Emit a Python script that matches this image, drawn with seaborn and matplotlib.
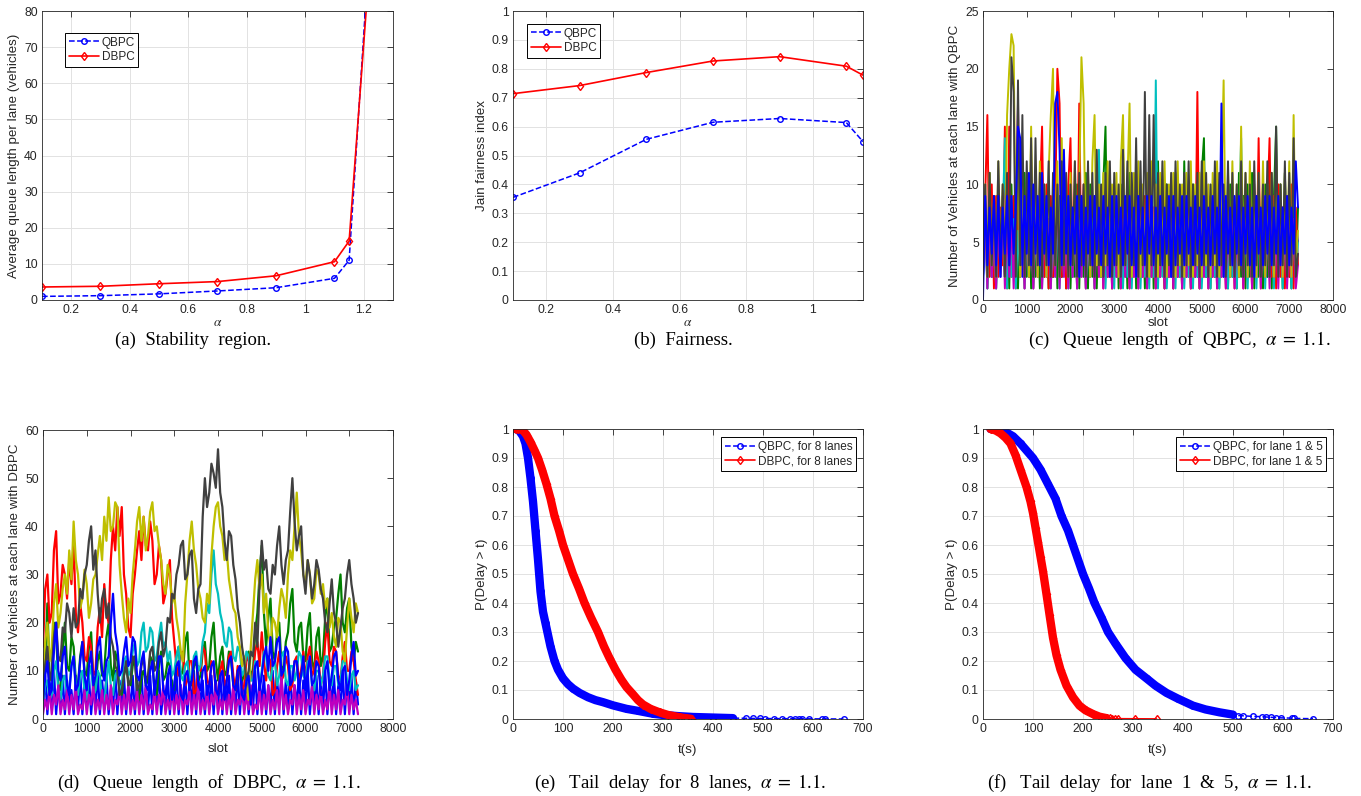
import numpy as np
import matplotlib
matplotlib.use("Agg")
import matplotlib.pyplot as plt
import seaborn as sns
from matplotlib.lines import Line2D
from matplotlib.ticker import FuncFormatter

# ---- (a) stability region / (b) fairness ----
ALPHA_A = [0.1, 0.3, 0.5, 0.7, 0.9, 1.1, 1.15, 1.21]
QUEUE_QBPC = [1.0, 1.2, 1.7, 2.5, 3.4, 6.0, 11.0, 86.0]
QUEUE_DBPC = [3.6, 3.8, 4.5, 5.1, 6.7, 10.6, 16.3, 82.0]

ALPHA_B = [0.1, 0.3, 0.5, 0.7, 0.9, 1.1, 1.15]
JAIN_QBPC = [0.355, 0.44, 0.556, 0.615, 0.628, 0.614, 0.548]
JAIN_DBPC = [0.714, 0.742, 0.787, 0.827, 0.842, 0.809, 0.778]

# ---- (c),(d) queue length per lane, read every 50 slots (one row = 1000 slots) ----
SLOTS = list(range(0, 7250, 50))
LANE_COLORS = ["#0000ff", "#008000", "#ff0000", "#00bfbf",
               "#bf00bf", "#bfbf00", "#404040", "#0000ff"]

QL1 = [2, 8, 3, 9, 2, 7, 4, 9, 3, 8, 2, 9, 3, 7, 2, 8, 4, 9, 2, 8,
       3, 9, 2, 7, 3, 8, 2, 9, 4, 8, 3, 7, 2, 9, 3, 8, 2, 9, 3, 7,
       2, 8, 4, 9, 2, 7, 3, 9, 2, 8, 3, 9, 4, 7, 2, 8, 3, 9, 2, 8,
       3, 7, 2, 9, 3, 8, 2, 9, 4, 8, 3, 9, 2, 7, 3, 8, 2, 9, 3, 8,
       2, 9, 3, 7, 4, 8, 2, 9, 3, 8, 2, 7, 3, 9, 2, 8, 4, 9, 2, 8,
       3, 7, 2, 9, 3, 8, 2, 9, 3, 7, 4, 8, 2, 9, 3, 8, 2, 7, 3, 9,
       2, 8, 3, 9, 2, 7, 4, 8, 3, 9, 2, 8, 3, 7, 2, 9, 3, 8, 4, 9,
       2, 8, 3, 7, 5]
QL2 = [2, 9, 1, 11, 2, 8, 1, 10, 3, 9, 2, 7, 1, 10, 2, 9, 1, 8, 3, 11,
       2, 10, 1, 9, 2, 8, 1, 11, 2, 9, 1, 8, 2, 10, 1, 9, 2, 11, 1, 8,
       1, 8, 2, 10, 1, 9, 2, 11, 1, 10, 2, 8, 1, 9, 2, 10, 15, 2, 11, 1,
       2, 9, 1, 10, 2, 8, 1, 11, 2, 9, 1, 10, 2, 8, 1, 9, 2, 11, 1, 10,
       12, 2, 9, 1, 10, 2, 8, 1, 11, 2, 9, 1, 12, 2, 8, 1, 10, 2, 9, 1,
       11, 14, 2, 9, 1, 10, 2, 8, 1, 11, 2, 9, 1, 10, 2, 8, 1, 11, 2, 9,
       1, 10, 2, 11, 1, 9, 2, 8, 1, 10, 2, 11, 1, 9, 15, 2, 10, 1, 11, 2,
       9, 1, 10, 2, 8]
QL3 = [3, 9, 16, 2, 10, 1, 9, 2, 8, 3, 15, 1, 15, 2, 9, 1, 10, 2, 8, 1,
       9, 2, 10, 1, 8, 2, 9, 15, 2, 10, 1, 9, 2, 8, 20, 17, 2, 9, 1, 10,
       14, 2, 9, 1, 17, 2, 10, 1, 8, 2, 9, 1, 10, 2, 8, 1, 9, 2, 10, 1,
       8, 2, 9, 1, 10, 2, 8, 1, 9, 2, 10, 1, 8, 2, 9, 1, 10, 2, 8, 1,
       9, 2, 10, 1, 8, 2, 9, 1, 10, 2, 8, 1, 9, 2, 10, 1, 8, 2, 18, 1,
       9, 2, 10, 1, 8, 2, 9, 1, 10, 2, 8, 1, 9, 2, 10, 1, 8, 2, 9, 1,
       10, 2, 8, 1, 9, 2, 14, 1, 10, 2, 8, 14, 2, 9, 1, 10, 2, 8, 1, 9,
       2, 10, 1, 8, 3]
QL4 = [2, 7, 1, 8, 2, 6, 1, 8, 2, 7, 14, 1, 8, 2, 7, 1, 6, 2, 8, 1,
       7, 2, 8, 1, 6, 2, 7, 1, 8, 2, 7, 1, 6, 2, 8, 1, 7, 2, 8, 1,
       6, 2, 7, 1, 8, 2, 7, 1, 6, 2, 8, 1, 7, 13, 2, 8, 1, 6, 2, 7,
       1, 8, 2, 7, 1, 6, 2, 8, 1, 7, 2, 8, 1, 6, 2, 7, 1, 8, 2, 19,
       1, 7, 2, 8, 1, 6, 2, 7, 1, 8, 2, 7, 1, 6, 2, 8, 1, 7, 2, 8,
       1, 6, 2, 7, 1, 8, 2, 7, 1, 6, 2, 8, 1, 7, 2, 8, 1, 6, 14, 2,
       7, 1, 8, 2, 6, 1, 7, 2, 8, 1, 7, 2, 6, 1, 8, 2, 7, 1, 8, 2,
       6, 1, 7, 2, 5]
QL5 = [2, 7, 1, 8, 2, 6, 1, 7, 2, 8, 1, 6, 2, 7, 1, 8, 17, 2, 7, 1,
       8, 2, 6, 1, 7, 2, 8, 1, 6, 2, 7, 1, 8, 2, 10, 1, 7, 2, 6, 1,
       7, 2, 8, 1, 6, 2, 7, 1, 8, 2, 6, 1, 7, 2, 8, 1, 6, 2, 7, 1,
       8, 2, 6, 1, 7, 2, 8, 1, 6, 2, 7, 1, 8, 2, 6, 1, 7, 2, 8, 1,
       6, 2, 7, 1, 8, 2, 6, 1, 7, 2, 8, 1, 6, 2, 7, 1, 8, 2, 6, 1,
       7, 2, 8, 1, 6, 2, 7, 1, 8, 2, 6, 1, 7, 2, 8, 1, 6, 2, 7, 1,
       8, 2, 6, 1, 7, 2, 8, 1, 6, 2, 7, 1, 8, 2, 6, 1, 7, 2, 8, 1,
       6, 2, 7, 1, 3]
QL6 = [3, 10, 2, 11, 3, 9, 2, 12, 3, 10, 2, 16, 20, 23, 22, 4, 12, 2, 11, 3,
       10, 2, 15, 3, 11, 2, 12, 3, 10, 2, 11, 16, 20, 3, 12, 2, 14, 3, 10, 2,
       11, 3, 12, 2, 10, 21, 17, 3, 11, 2, 12, 16, 3, 10, 2, 11, 3, 12, 2, 10,
       3, 11, 2, 12, 16, 3, 10, 17, 2, 11, 3, 12, 2, 10, 3, 11, 2, 12, 3, 10,
       2, 11, 3, 12, 2, 10, 3, 11, 2, 12, 3, 10, 2, 11, 3, 12, 2, 10, 3, 11,
       2, 12, 3, 10, 2, 11, 3, 12, 2, 10, 19, 3, 11, 2, 12, 3, 10, 2, 15, 3,
       11, 2, 12, 3, 10, 2, 11, 3, 12, 2, 10, 3, 11, 2, 12, 3, 10, 2, 11, 3,
       12, 2, 16, 3, 6]
QL7 = [3, 10, 2, 11, 3, 9, 2, 12, 3, 10, 2, 11, 3, 21, 18, 2, 19, 3, 16, 2,
       12, 3, 14, 2, 14, 3, 11, 2, 10, 3, 12, 2, 11, 3, 10, 2, 12, 3, 11, 2,
       10, 3, 12, 2, 11, 3, 10, 2, 12, 3, 11, 2, 13, 3, 10, 2, 11, 3, 12, 2,
       11, 3, 10, 2, 13, 3, 12, 2, 11, 3, 14, 2, 12, 3, 18, 2, 16, 3, 16, 2,
       11, 3, 12, 2, 10, 3, 11, 2, 12, 3, 10, 2, 11, 3, 12, 2, 10, 3, 11, 2,
       12, 3, 11, 2, 10, 3, 12, 2, 11, 3, 10, 2, 12, 3, 11, 2, 10, 3, 12, 2,
       11, 3, 10, 2, 12, 3, 11, 2, 10, 3, 12, 2, 11, 3, 15, 2, 10, 3, 12, 2,
       11, 3, 14, 2, 4]
QL8 = [0, 9, 3, 8, 4, 9, 3, 9, 2, 8, 4, 9, 3, 9, 4, 8, 15, 14, 3, 9,
       4, 11, 3, 10, 4, 9, 3, 11, 4, 9, 3, 8, 4, 17, 18, 13, 3, 13, 4, 9,
       3, 8, 4, 9, 2, 9, 3, 8, 4, 9, 3, 9, 4, 8, 3, 9, 4, 8, 2, 9,
       3, 9, 4, 8, 3, 9, 4, 9, 3, 8, 2, 9, 4, 8, 3, 9, 4, 9, 3, 8,
       4, 9, 3, 8, 4, 9, 2, 9, 3, 8, 4, 9, 3, 9, 4, 8, 3, 9, 4, 8,
       3, 9, 4, 8, 3, 9, 4, 8, 3, 17, 2, 9, 4, 8, 3, 9, 4, 9, 3, 8,
       4, 9, 3, 8, 2, 9, 4, 8, 3, 9, 4, 9, 3, 8, 4, 9, 3, 8, 4, 9,
       3, 8, 4, 12, 8]

DL1 = [2, 9, 1, 8, 3, 10, 1, 7, 2, 9, 1, 8, 3, 6, 1, 9, 2, 10, 1, 8,
       3, 9, 1, 7, 2, 10, 1, 8, 3, 9, 1, 6, 2, 10, 1, 8, 3, 9, 1, 7,
       2, 9, 1, 8, 3, 10, 1, 7, 2, 9, 1, 8, 3, 10, 1, 6, 2, 9, 1, 8,
       3, 10, 1, 7, 2, 9, 1, 8, 3, 10, 1, 9, 2, 8, 1, 7, 3, 9, 1, 8,
       2, 10, 1, 8, 3, 9, 1, 7, 2, 10, 1, 8, 3, 9, 1, 6, 2, 10, 1, 8,
       3, 9, 1, 7, 2, 10, 1, 8, 3, 9, 1, 8, 2, 10, 1, 7, 3, 9, 1, 8,
       2, 10, 1, 7, 3, 9, 1, 8, 2, 10, 1, 8, 3, 9, 1, 7, 2, 10, 1, 8,
       3, 9, 1, 8, 3]
DL2 = [5, 12, 24, 9, 8, 20, 18, 7, 6, 14, 20, 11, 10, 17, 15, 8, 7, 13, 16, 10,
       9, 15, 18, 8, 6, 12, 14, 9, 10, 17, 20, 11, 8, 14, 12, 6, 5, 9, 11, 8,
       7, 11, 13, 6, 4, 9, 10, 7, 8, 13, 12, 6, 5, 11, 14, 8, 9, 12, 11, 7,
       6, 13, 15, 9, 10, 16, 18, 8, 7, 11, 12, 8, 9, 14, 16, 10, 11, 17, 20, 12,
       8, 13, 15, 9, 10, 14, 12, 7, 6, 10, 11, 8, 9, 13, 14, 9, 10, 18, 22, 30,
       36, 22, 15, 21, 25, 14, 12, 18, 20, 11, 10, 16, 18, 24, 27, 16, 14, 19, 20, 13,
       12, 19, 22, 12, 10, 17, 19, 11, 13, 21, 25, 14, 15, 19, 21, 26, 30, 20, 18, 23,
       25, 15, 12, 16, 14]
DL3 = [15, 27, 30, 20, 22, 35, 39, 24, 26, 32, 30, 25, 33, 28, 37, 22, 18, 24, 20, 13,
       12, 17, 15, 9, 10, 19, 23, 17, 28, 22, 20, 33, 40, 35, 44, 38, 44, 30, 26, 19,
       17, 26, 30, 35, 39, 33, 42, 36, 35, 41, 37, 28, 30, 36, 33, 24, 26, 30, 33, 21,
       16, 11, 9, 13, 14, 7, 8, 12, 12, 5, 6, 11, 10, 15, 14, 8, 7, 12, 11, 6,
       5, 10, 12, 7, 8, 13, 14, 9, 6, 11, 10, 6, 7, 12, 13, 8, 9, 14, 16, 11,
       18, 12, 8, 13, 12, 5, 6, 11, 14, 8, 9, 13, 11, 6, 7, 12, 13, 8, 10, 14,
       8, 13, 15, 9, 10, 14, 12, 7, 9, 16, 20, 12, 11, 15, 14, 9, 8, 13, 16, 10,
       10, 14, 12, 8, 5]
DL4 = [3, 7, 8, 4, 5, 10, 12, 6, 4, 8, 9, 5, 6, 11, 13, 7, 5, 9, 10, 6,
       4, 9, 11, 5, 6, 10, 9, 4, 3, 8, 12, 7, 5, 9, 10, 6, 7, 12, 13, 9,
       10, 14, 16, 11, 12, 18, 20, 14, 15, 19, 18, 12, 13, 17, 20, 15, 16, 12, 14, 9,
       10, 13, 15, 9, 8, 11, 12, 8, 9, 13, 14, 10, 11, 16, 18, 24, 22, 30, 35, 28,
       26, 22, 20, 16, 15, 19, 18, 13, 12, 15, 14, 9, 10, 14, 13, 8, 8, 12, 11, 7,
       10, 14, 13, 9, 8, 11, 12, 7, 9, 13, 14, 8, 7, 11, 11, 8, 10, 14, 13, 9,
       8, 12, 12, 7, 6, 10, 10, 7, 9, 13, 13, 8, 7, 11, 11, 7, 8, 12, 12, 8,
       6, 9, 10, 6, 7]
DL5 = [1, 4, 2, 6, 1, 5, 3, 7, 1, 4, 2, 6, 1, 5, 2, 7, 1, 3, 2, 6,
       1, 5, 3, 7, 1, 4, 2, 6, 1, 5, 2, 7, 1, 4, 3, 6, 1, 5, 2, 7,
       1, 4, 2, 6, 1, 5, 2, 7, 1, 3, 2, 6, 1, 5, 3, 7, 1, 4, 2, 6,
       1, 5, 2, 7, 1, 4, 3, 6, 1, 5, 2, 7, 1, 4, 2, 6, 1, 5, 3, 7,
       1, 4, 2, 6, 1, 5, 2, 7, 1, 4, 3, 6, 1, 5, 2, 7, 1, 3, 2, 6,
       1, 5, 2, 7, 1, 4, 2, 6, 1, 9, 2, 5, 1, 4, 3, 7, 1, 5, 2, 6,
       1, 4, 3, 7, 1, 5, 2, 6, 1, 4, 2, 7, 1, 5, 2, 6, 1, 4, 3, 7,
       1, 5, 2, 4, 1]
DL6 = [10, 16, 20, 12, 15, 24, 28, 19, 22, 27, 30, 26, 35, 29, 41, 33, 30, 23, 25, 31,
       28, 21, 24, 29, 30, 34, 38, 33, 42, 37, 46, 39, 40, 45, 44, 32, 26, 21, 18, 25,
       22, 30, 35, 41, 44, 37, 42, 35, 38, 43, 45, 39, 40, 36, 33, 28, 26, 32, 30, 24,
       26, 21, 18, 14, 12, 24, 30, 37, 41, 35, 32, 27, 25, 21, 20, 26, 24, 34, 40, 44,
       45, 40, 38, 33, 35, 29, 26, 23, 22, 17, 15, 11, 13, 7, 4, 15, 22, 29, 33, 27,
       30, 22, 26, 18, 15, 21, 20, 17, 23, 27, 25, 21, 30, 35, 33, 40, 47, 38, 35, 30,
       28, 33, 30, 24, 25, 31, 30, 26, 28, 23, 25, 19, 22, 17, 15, 21, 20, 14, 12, 19,
       25, 21, 18, 24, 22]
DL7 = [4, 11, 15, 8, 10, 17, 20, 13, 12, 19, 18, 24, 22, 17, 23, 19, 20, 27, 25, 30,
       32, 37, 40, 31, 35, 26, 20, 25, 27, 21, 24, 17, 15, 11, 10, 5, 6, 9, 12, 7,
       8, 13, 12, 6, 7, 11, 13, 8, 9, 14, 15, 10, 11, 16, 18, 13, 15, 21, 20, 26,
       25, 30, 32, 36, 37, 29, 30, 34, 35, 25, 22, 27, 28, 42, 50, 44, 47, 53, 51, 48,
       56, 47, 44, 37, 33, 39, 38, 32, 29, 23, 20, 15, 12, 8, 10, 14, 13, 20, 15, 28,
       37, 31, 33, 27, 26, 32, 30, 36, 40, 32, 28, 33, 35, 43, 50, 41, 35, 38, 40, 30,
       26, 33, 30, 25, 28, 33, 31, 27, 25, 20, 18, 24, 29, 22, 20, 15, 19, 23, 25, 30,
       33, 28, 25, 20, 22]
DL8 = [4, 9, 12, 5, 6, 14, 20, 10, 8, 13, 15, 7, 5, 11, 13, 6, 7, 12, 16, 9,
       6, 11, 14, 7, 9, 15, 17, 10, 8, 12, 13, 20, 26, 18, 15, 9, 10, 14, 17, 11,
       12, 17, 16, 9, 8, 12, 14, 7, 6, 10, 12, 5, 9, 13, 13, 6, 5, 9, 11, 4,
       7, 11, 12, 5, 4, 9, 10, 6, 8, 12, 13, 7, 6, 10, 11, 5, 7, 11, 12, 6,
       5, 9, 10, 4, 8, 12, 13, 7, 6, 10, 11, 5, 4, 8, 9, 3, 7, 11, 12, 6,
       9, 13, 15, 10, 17, 11, 12, 16, 17, 9, 10, 15, 14, 7, 8, 12, 12, 6, 9, 13,
       6, 10, 13, 7, 8, 12, 11, 5, 5, 10, 12, 6, 9, 13, 14, 8, 6, 10, 11, 5,
       8, 13, 16, 9, 10]

# ---- (e) tail delay, 8 lanes ----
E_QBPC_T = [5, 12, 20, 25, 30, 35, 40, 45, 50, 55, 60, 65, 70, 75, 83, 90, 100, 110,
            120, 133, 150, 165, 180, 200, 227, 250, 280, 300, 330, 360, 400, 440]
E_QBPC_P = [1.0, 0.995, 0.975, 0.95, 0.9, 0.83, 0.75, 0.65, 0.55, 0.44, 0.37, 0.33,
            0.29, 0.25, 0.2, 0.17, 0.14, 0.12, 0.105, 0.09, 0.075, 0.065, 0.058, 0.047,
            0.035, 0.028, 0.018, 0.014, 0.01, 0.007, 0.005, 0.003]
E_QBPC_TAIL_T = [465, 480, 494, 504, 521, 537, 554, 564, 571, 577, 591, 617, 624, 661]
E_QBPC_TAIL_P = [0.0025, 0.002, 0.0018, 0.0015, 0.0013, 0.0011, 0.001, 0.0009,
                 0.0008, 0.0007, 0.0006, 0.0004, 0.0003, 0.0001]
E_DBPC_T = [5, 10, 15, 20, 27, 35, 42, 50, 58, 67, 75, 83, 92, 100, 110, 120, 132, 143,
            156, 170, 182, 193, 205, 217, 227, 240, 250, 260, 275, 293, 310, 333, 345, 355]
E_DBPC_P = [1.0, 1.0, 1.0, 0.995, 0.98, 0.955, 0.93, 0.9, 0.86, 0.81, 0.76, 0.7, 0.65,
            0.6, 0.55, 0.5, 0.45, 0.4, 0.35, 0.3, 0.25, 0.21, 0.17, 0.135, 0.11, 0.085,
            0.065, 0.05, 0.035, 0.023, 0.014, 0.006, 0.003, 0.001]
E_DBPC_TAIL_T = [358]
E_DBPC_TAIL_P = [0.0005]

# ---- (f) tail delay, lane 1 & 5 ----
F_QBPC_T = [15, 25, 35, 45, 60, 75, 90, 100, 115, 130, 145, 157, 170, 180, 190, 200,
            212, 223, 237, 250, 265, 285, 305, 327, 345, 367, 390, 420, 445, 473, 500]
F_QBPC_P = [1.0, 1.0, 0.995, 0.99, 0.975, 0.95, 0.92, 0.9, 0.86, 0.81, 0.76, 0.7, 0.65,
            0.6, 0.55, 0.5, 0.45, 0.4, 0.35, 0.3, 0.26, 0.21, 0.17, 0.14, 0.115, 0.09,
            0.07, 0.046, 0.033, 0.023, 0.015]
F_QBPC_TAIL_T = [510, 520, 540, 558, 565, 575, 585, 595, 618, 622, 660]
F_QBPC_TAIL_P = [0.012, 0.011, 0.009, 0.008, 0.007, 0.006, 0.005, 0.004, 0.003, 0.002, 0.001]
F_DBPC_T = [15, 25, 35, 45, 55, 65, 75, 87, 95, 100, 105, 110, 115, 120, 127, 133, 140,
            147, 155, 167, 180, 193, 205, 220, 233, 247]
F_DBPC_P = [1.0, 0.995, 0.985, 0.97, 0.95, 0.91, 0.86, 0.8, 0.75, 0.71, 0.66, 0.61, 0.56,
            0.51, 0.43, 0.36, 0.28, 0.22, 0.17, 0.115, 0.075, 0.046, 0.03, 0.017, 0.008, 0.003]
F_DBPC_TAIL_T = [253, 258, 263, 270, 303, 347]
F_DBPC_TAIL_P = [0.002, 0.0015, 0.0012, 0.001, 0.0007, 0.0003]

W, H = 1361, 796
INK = "#262626"
TICK_SIZE = 8.8
LABEL_SIZE = 9.6

sns.set_theme(style="white")
plt.rcParams["font.family"] = ["Liberation Sans", "DejaVu Sans"]
plt.rcParams["mathtext.fontset"] = "stix"

fig = plt.figure(figsize=(W / 100, H / 100), dpi=100)


def add_ax(x0, x1, y0, y1):
    return fig.add_axes([x0 / W, 1 - y1 / H, (x1 - x0) / W, (y1 - y0) / H])


def matlab_style(ax, xlim, ylim, xticks, yticks, grid=True):
    ax.set_xlim(xlim)
    ax.set_ylim(ylim)
    ax.set_xticks(xticks)
    ax.set_yticks(yticks)
    fmt = FuncFormatter(lambda v, _: "%g" % round(v, 6))
    ax.xaxis.set_major_formatter(fmt)
    ax.yaxis.set_major_formatter(fmt)
    ax.tick_params(direction="in", length=4, width=0.6, top=True, right=True,
                   labelsize=TICK_SIZE, color=INK, labelcolor=INK, pad=3)
    for s in ax.spines.values():
        s.set_visible(True)
        s.set_color(INK)
        s.set_linewidth(0.6)
    if grid:
        ax.grid(True, color="#e2e2e2", lw=0.7)
        ax.set_axisbelow(True)
    else:
        ax.grid(False)


def line(ax, x, y, color, **kw):
    sns.lineplot(x=x, y=y, ax=ax, color=color, estimator=None, sort=False,
                 legend=False, **kw)


Q_STYLE = dict(ls="--", lw=1.1, marker="o", markersize=4, markerfacecolor="none",
               markeredgecolor="blue", markeredgewidth=1)
D_STYLE = dict(ls="-", lw=1.2, marker="d", markersize=4.5, markerfacecolor="none",
               markeredgecolor="red", markeredgewidth=1)


def add_legend(ax, names, loc, anchor):
    handles = [Line2D([], [], color="blue", **Q_STYLE), Line2D([], [], color="red", **D_STYLE)]
    leg = ax.legend(handles, names, loc=loc, bbox_to_anchor=anchor, borderaxespad=0,
                    frameon=True, fancybox=False, edgecolor="black", framealpha=1,
                    fontsize=8.5, handlelength=2.6, handletextpad=0.2, borderpad=0.3,
                    labelspacing=0.25)
    leg.get_frame().set_linewidth(0.7)


def labels(ax, xl, yl, xpad=0.5):
    ax.set_xlabel(xl, fontsize=LABEL_SIZE, color=INK, labelpad=xpad)
    ax.set_ylabel(yl, fontsize=LABEL_SIZE, color=INK, labelpad=3)


# (a)
ax = add_ax(42, 393, 11, 300)
line(ax, ALPHA_A, QUEUE_QBPC, "blue", **Q_STYLE)
line(ax, ALPHA_A, QUEUE_DBPC, "red", **D_STYLE)
matlab_style(ax, (0.1, 1.3), (0, 80), [0.2, 0.4, 0.6, 0.8, 1.0, 1.2], range(0, 81, 10))
labels(ax, r"$\alpha$", "Average queue length per lane (vehicles)")
add_legend(ax, ["QBPC", "DBPC"], "upper left", (0.0655, 0.924))

# (b)
ax = add_ax(513, 863, 11, 300)
line(ax, ALPHA_B, JAIN_QBPC, "blue", **Q_STYLE)
line(ax, ALPHA_B, JAIN_DBPC, "red", **D_STYLE)
matlab_style(ax, (0.1, 1.15), (0, 1), [0.2, 0.4, 0.6, 0.8, 1.0], np.arange(0, 1.01, 0.1))
labels(ax, r"$\alpha$", "Jain fairness index")
add_legend(ax, ["QBPC", "DBPC"], "upper left", (0.04, 0.955))

# (c)
ax = add_ax(983, 1333, 11, 300)
for lane, c in zip([QL1, QL2, QL3, QL4, QL5, QL6, QL7, QL8], LANE_COLORS):
    line(ax, SLOTS[:len(lane)], lane, c, lw=1.4)
matlab_style(ax, (0, 8000), (0, 25), range(0, 8001, 1000), range(0, 26, 5), grid=False)
labels(ax, "slot", "Number of Vehicles at each lane with QBPC")

# (d)
ax = add_ax(43, 393, 430, 719)
for lane, c in zip([DL1, DL2, DL3, DL4, DL5, DL6, DL7, DL8], LANE_COLORS):
    line(ax, SLOTS[:len(lane)], lane, c, lw=1.6)
matlab_style(ax, (0, 8000), (0, 60), range(0, 8001, 1000), range(0, 61, 10), grid=False)
labels(ax, "slot", "Number of Vehicles at each lane with DBPC", xpad=6)


def tail_panel(ax, qt, qp, qtt, qtp, dt, dp, dtt, dtp, names):
    line(ax, qt, qp, "blue", lw=6, solid_capstyle="round")
    line(ax, qt + qtt, qp + qtp, "blue", **Q_STYLE)
    line(ax, dt, dp, "red", lw=6, solid_capstyle="round")
    line(ax, dt + dtt, dp + dtp, "red", **D_STYLE)
    matlab_style(ax, (0, 700), (0, 1), range(0, 701, 100), np.arange(0, 1.01, 0.1))
    labels(ax, "t(s)", "P(Delay > t)", xpad=6)
    add_legend(ax, names, "upper right", (0.98, 0.972))


# (e)
ax = add_ax(513, 863, 429, 719)
tail_panel(ax, E_QBPC_T, E_QBPC_P, E_QBPC_TAIL_T, E_QBPC_TAIL_P,
           E_DBPC_T, E_DBPC_P, E_DBPC_TAIL_T, E_DBPC_TAIL_P,
           ["QBPC, for 8 lanes", "DBPC, for 8 lanes"])

# (f)
ax = add_ax(983, 1333, 429, 719)
tail_panel(ax, F_QBPC_T, F_QBPC_P, F_QBPC_TAIL_T, F_QBPC_TAIL_P,
           F_DBPC_T, F_DBPC_P, F_DBPC_TAIL_T, F_DBPC_TAIL_P,
           ["QBPC, for lane 1 & 5", "DBPC, for lane 1 & 5"])

# captions (wide, justified-looking spacing as in the paper)
CAPTIONS = [
    (193, 340, "(a)  Stability  region."),
    (683, 340, "(b)  Fairness."),
    (1179, 340, r"(c)   Queue  length  of  QBPC,  $\alpha\;=\;1.1$."),
    (209, 783, r"(d)   Queue  length  of  DBPC,  $\alpha\;=\;1.1$."),
    (680, 783, r"(e)   Tail  delay  for  8  lanes,  $\alpha\;=\;1.1$."),
    (1150, 783, r"(f)   Tail  delay  for  lane  1  &  5,  $\alpha\;=\;1.1$."),
]
for x, y, txt in CAPTIONS:
    fig.text(x / W, 1 - y / H, txt, ha="center", va="center", fontsize=13.5,
             family=["Liberation Serif", "DejaVu Serif"], color="black")

fig.savefig("out.png", dpi=100)
